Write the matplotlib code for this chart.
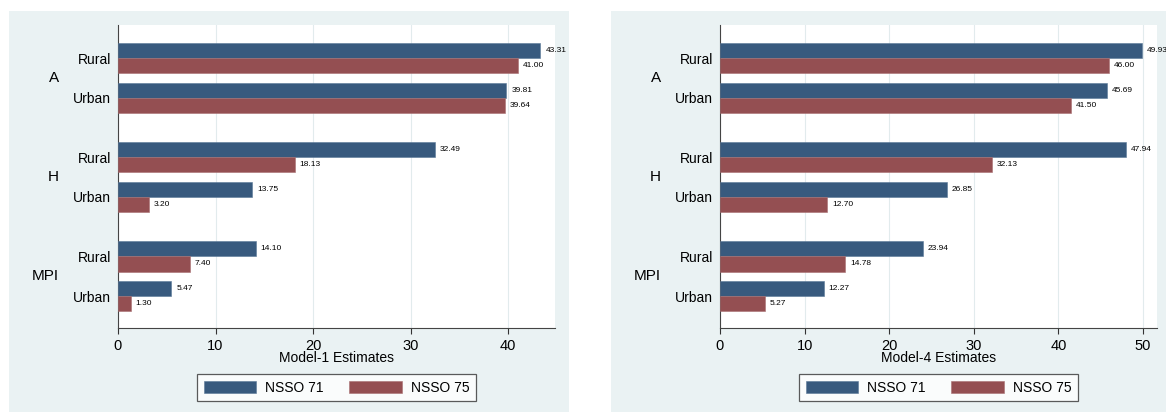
import matplotlib
matplotlib.use('Agg')
import matplotlib.pyplot as plt
from matplotlib.patches import Rectangle
import matplotlib.transforms as mtransforms

plt.rcParams['font.family'] = ['Liberation Sans', 'DejaVu Sans']

groups = ['A', 'H', 'MPI']
areas = ['Rural', 'Urban']
series = ['NSSO 71', 'NSSO 75']

# values per group, Rural then Urban
m1_nsso71 = [43.31, 39.81, 32.49, 13.75, 14.10, 5.47]
m1_nsso75 = [41.00, 39.64, 18.13, 3.20, 7.40, 1.30]
m4_nsso71 = [49.93, 45.69, 47.94, 26.85, 23.94, 12.27]
m4_nsso75 = [46.00, 41.50, 32.13, 12.70, 14.78, 5.27]

panels = [
    ('Model-1 Estimates', m1_nsso71, m1_nsso75, 44.8, [0, 10, 20, 30, 40]),
    ('Model-4 Estimates', m4_nsso71, m4_nsso75, 51.65, [0, 10, 20, 30, 40, 50]),
]

blue = '#385a7e'
red = '#944f52'
bg = '#eaf2f3'

W, H = 1166, 412
fig = plt.figure(figsize=(W / 100, H / 100), dpi=100)

# panel backgrounds (graph region)
for x0 in (9, 611):
    fig.patches.append(Rectangle((x0 / W, 0), 560 / W, (H - 11) / H,
                                 transform=fig.transFigure, facecolor=bg,
                                 edgecolor='none', zorder=-5))

step_in, step_out = 2.6, 3.88
pos = []
for g in range(len(groups)):
    for s in range(len(areas)):
        pos.append(g * (step_in + step_out) + s * step_in)

for i, (title, v71, v75, xmax, ticks) in enumerate(panels):
    left = (118 + 602 * i) / W
    ax = fig.add_axes([left, (H - 328) / H, 437 / W, 303 / H])
    ax.set_zorder(1)
    ax.set_facecolor('white')

    b71 = ax.barh([p - 0.5 for p in pos], v71, height=1.0, color=blue,
                  edgecolor='#5a7898', linewidth=0.4, label=series[0], zorder=3)
    b75 = ax.barh([p + 0.5 for p in pos], v75, height=1.0, color=red,
                  edgecolor='#a87072', linewidth=0.4, label=series[1], zorder=3)
    for bars, vals in ((b71, v71), (b75, v75)):
        for b, v in zip(bars, vals):
            ax.annotate('%.2f' % v, (v, b.get_y() + b.get_height() / 2),
                        xytext=(3.5, 0), textcoords='offset points',
                        ha='left', va='center', fontsize=6,
                        annotation_clip=False, clip_on=False)

    ax.set_xlim(0, xmax)
    ax.set_ylim(pos[-1] + 2.09, pos[0] - 2.16)
    ax.set_xticks(ticks)
    ax.tick_params(axis='x', length=4, width=0.8, pad=4, labelsize=10.5,
                   colors='#333333', labelcolor='black')
    ax.set_yticks(pos)
    ax.set_yticklabels(areas * len(groups), fontsize=10)
    ax.tick_params(axis='y', length=0, pad=5)
    ax.grid(axis='x', color='#e2ebed', linewidth=0.8, zorder=0)
    ax.set_axisbelow(True)
    for sp in ('top', 'right'):
        ax.spines[sp].set_visible(False)
    for sp in ('left', 'bottom'):
        ax.spines[sp].set_color('#444444')
        ax.spines[sp].set_linewidth(0.8)

    trans = mtransforms.blended_transform_factory(ax.transAxes, ax.transData)
    for g, name in enumerate(groups):
        yc = (pos[2 * g] + pos[2 * g + 1]) / 2
        ax.text(-59 / 437, yc, name, transform=trans, ha='right', va='center',
                fontsize=11)

    ax.set_xlabel(title, fontsize=10)
    ax.xaxis.set_label_coords(0.5, -30 / 303)
    ax.xaxis.label.set_va('center')

    leg = ax.legend(loc='center', bbox_to_anchor=(0.5, -59.5 / 303), ncol=2,
                    fontsize=10, frameon=True, fancybox=False,
                    handlelength=3.8, handleheight=0.95, handletextpad=0.65,
                    columnspacing=1.8, borderpad=0.45, borderaxespad=0)
    leg.get_frame().set_edgecolor('#333333')
    leg.get_frame().set_linewidth(0.9)

fig.savefig('out.png', dpi=100, facecolor='white')
